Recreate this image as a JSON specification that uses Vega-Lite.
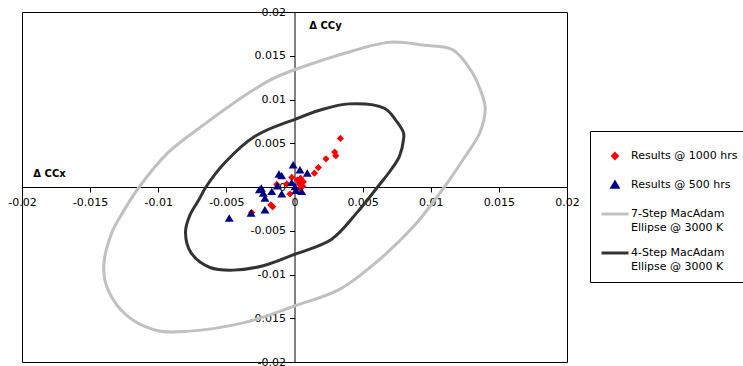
{
  "$schema": "https://vega.github.io/schema/vega-lite/v6.json",
  "width": 545,
  "height": 350,
  "autosize": {"type": "none"},
  "padding": {"left": 22, "top": 12, "right": 176, "bottom": 4},
  "background": "#ffffff",
  "config": {
    "view": {"stroke": "#000000", "strokeWidth": 1},
    "font": "DejaVu Sans",
    "style": {"guide-label": {"lineBreak": "\n", "lineHeight": 14}}
  },
  "datasets": {
    "ellipses": [
      {"series": "7-Step MacAdam\nEllipse @ 3000 K", "i": 0, "x": 0, "y": 0.0134},
      {"series": "7-Step MacAdam\nEllipse @ 3000 K", "i": 1, "x": 0.0035, "y": 0.0152},
      {"series": "7-Step MacAdam\nEllipse @ 3000 K", "i": 2, "x": 0.007, "y": 0.01655},
      {"series": "7-Step MacAdam\nEllipse @ 3000 K", "i": 3, "x": 0.0095, "y": 0.0162},
      {"series": "7-Step MacAdam\nEllipse @ 3000 K", "i": 4, "x": 0.0116, "y": 0.0157},
      {"series": "7-Step MacAdam\nEllipse @ 3000 K", "i": 5, "x": 0.013, "y": 0.0132},
      {"series": "7-Step MacAdam\nEllipse @ 3000 K", "i": 6, "x": 0.0138, "y": 0.0104},
      {"series": "7-Step MacAdam\nEllipse @ 3000 K", "i": 7, "x": 0.014, "y": 0.009},
      {"series": "7-Step MacAdam\nEllipse @ 3000 K", "i": 8, "x": 0.0136, "y": 0.0062},
      {"series": "7-Step MacAdam\nEllipse @ 3000 K", "i": 9, "x": 0.0124, "y": 0.0032},
      {"series": "7-Step MacAdam\nEllipse @ 3000 K", "i": 10, "x": 0.011, "y": 0.0},
      {"series": "7-Step MacAdam\nEllipse @ 3000 K", "i": 11, "x": 0.0088, "y": -0.0044},
      {"series": "7-Step MacAdam\nEllipse @ 3000 K", "i": 12, "x": 0.006, "y": -0.0086},
      {"series": "7-Step MacAdam\nEllipse @ 3000 K", "i": 13, "x": 0.0033, "y": -0.0117},
      {"series": "7-Step MacAdam\nEllipse @ 3000 K", "i": 14, "x": 0.0, "y": -0.0136},
      {"series": "7-Step MacAdam\nEllipse @ 3000 K", "i": 15, "x": -0.0037, "y": -0.0155},
      {"series": "7-Step MacAdam\nEllipse @ 3000 K", "i": 16, "x": -0.0079, "y": -0.0165},
      {"series": "7-Step MacAdam\nEllipse @ 3000 K", "i": 17, "x": -0.0101, "y": -0.0164},
      {"series": "7-Step MacAdam\nEllipse @ 3000 K", "i": 18, "x": -0.0123, "y": -0.0147},
      {"series": "7-Step MacAdam\nEllipse @ 3000 K", "i": 19, "x": -0.0137, "y": -0.0117},
      {"series": "7-Step MacAdam\nEllipse @ 3000 K", "i": 20, "x": -0.014, "y": -0.009},
      {"series": "7-Step MacAdam\nEllipse @ 3000 K", "i": 21, "x": -0.0134, "y": -0.0052},
      {"series": "7-Step MacAdam\nEllipse @ 3000 K", "i": 22, "x": -0.0126, "y": -0.0029},
      {"series": "7-Step MacAdam\nEllipse @ 3000 K", "i": 23, "x": -0.0114, "y": 0.0},
      {"series": "7-Step MacAdam\nEllipse @ 3000 K", "i": 24, "x": -0.0093, "y": 0.0039},
      {"series": "7-Step MacAdam\nEllipse @ 3000 K", "i": 25, "x": -0.0065, "y": 0.0073},
      {"series": "7-Step MacAdam\nEllipse @ 3000 K", "i": 26, "x": -0.0037, "y": 0.0104},
      {"series": "7-Step MacAdam\nEllipse @ 3000 K", "i": 27, "x": -0.0017, "y": 0.0123},
      {"series": "7-Step MacAdam\nEllipse @ 3000 K", "i": 28, "x": 0, "y": 0.0134},
      {"series": "4-Step MacAdam\nEllipse @ 3000 K", "i": 0, "x": 0, "y": 0.0077},
      {"series": "4-Step MacAdam\nEllipse @ 3000 K", "i": 1, "x": 0.0019, "y": 0.0088},
      {"series": "4-Step MacAdam\nEllipse @ 3000 K", "i": 2, "x": 0.004, "y": 0.0095},
      {"series": "4-Step MacAdam\nEllipse @ 3000 K", "i": 3, "x": 0.0066, "y": 0.009},
      {"series": "4-Step MacAdam\nEllipse @ 3000 K", "i": 4, "x": 0.0074, "y": 0.0077},
      {"series": "4-Step MacAdam\nEllipse @ 3000 K", "i": 5, "x": 0.008, "y": 0.0062},
      {"series": "4-Step MacAdam\nEllipse @ 3000 K", "i": 6, "x": 0.008, "y": 0.0054},
      {"series": "4-Step MacAdam\nEllipse @ 3000 K", "i": 7, "x": 0.0077, "y": 0.0035},
      {"series": "4-Step MacAdam\nEllipse @ 3000 K", "i": 8, "x": 0.0071, "y": 0.002},
      {"series": "4-Step MacAdam\nEllipse @ 3000 K", "i": 9, "x": 0.0061, "y": 0.0},
      {"series": "4-Step MacAdam\nEllipse @ 3000 K", "i": 10, "x": 0.0046, "y": -0.0029},
      {"series": "4-Step MacAdam\nEllipse @ 3000 K", "i": 11, "x": 0.0027, "y": -0.006},
      {"series": "4-Step MacAdam\nEllipse @ 3000 K", "i": 12, "x": 0.0, "y": -0.0077},
      {"series": "4-Step MacAdam\nEllipse @ 3000 K", "i": 13, "x": -0.0023, "y": -0.009},
      {"series": "4-Step MacAdam\nEllipse @ 3000 K", "i": 14, "x": -0.0045, "y": -0.0095},
      {"series": "4-Step MacAdam\nEllipse @ 3000 K", "i": 15, "x": -0.0062, "y": -0.0092},
      {"series": "4-Step MacAdam\nEllipse @ 3000 K", "i": 16, "x": -0.0076, "y": -0.0075},
      {"series": "4-Step MacAdam\nEllipse @ 3000 K", "i": 17, "x": -0.008, "y": -0.0052},
      {"series": "4-Step MacAdam\nEllipse @ 3000 K", "i": 18, "x": -0.0077, "y": -0.0033},
      {"series": "4-Step MacAdam\nEllipse @ 3000 K", "i": 19, "x": -0.007, "y": -0.0014},
      {"series": "4-Step MacAdam\nEllipse @ 3000 K", "i": 20, "x": -0.0065, "y": 0.0},
      {"series": "4-Step MacAdam\nEllipse @ 3000 K", "i": 21, "x": -0.0051, "y": 0.0028},
      {"series": "4-Step MacAdam\nEllipse @ 3000 K", "i": 22, "x": -0.0029, "y": 0.0058},
      {"series": "4-Step MacAdam\nEllipse @ 3000 K", "i": 23, "x": 0, "y": 0.0077}
    ],
    "points": [
      {"series": "Results @ 1000 hrs", "x": 0.00337, "y": 0.00555},
      {"series": "Results @ 1000 hrs", "x": 0.00295, "y": 0.004},
      {"series": "Results @ 1000 hrs", "x": 0.00303, "y": 0.00358},
      {"series": "Results @ 1000 hrs", "x": 0.00231, "y": 0.00322},
      {"series": "Results @ 1000 hrs", "x": 0.00175, "y": 0.00222},
      {"series": "Results @ 1000 hrs", "x": 0.00146, "y": 0.00158},
      {"series": "Results @ 1000 hrs", "x": 0.00065, "y": 0.0006},
      {"series": "Results @ 1000 hrs", "x": 0.00045, "y": 0.001},
      {"series": "Results @ 1000 hrs", "x": 0.00035, "y": 0.00035},
      {"series": "Results @ 1000 hrs", "x": 0.0006, "y": 0.0001},
      {"series": "Results @ 1000 hrs", "x": 0.0002, "y": 0.0008},
      {"series": "Results @ 1000 hrs", "x": -0.0002, "y": 0.0011},
      {"series": "Results @ 1000 hrs", "x": -0.00057, "y": 0.00035},
      {"series": "Results @ 1000 hrs", "x": -0.0013, "y": 0.0003},
      {"series": "Results @ 1000 hrs", "x": -0.00033, "y": -0.0008},
      {"series": "Results @ 1000 hrs", "x": 0.0004, "y": -0.0002},
      {"series": "Results @ 1000 hrs", "x": -0.00174, "y": -0.00205},
      {"series": "Results @ 1000 hrs", "x": -0.0016, "y": -0.00225},
      {"series": "Results @ 1000 hrs", "x": -0.00314, "y": -0.00292},
      {"series": "Results @ 500 hrs", "x": -0.0001, "y": 0.0025},
      {"series": "Results @ 500 hrs", "x": 0.0004, "y": 0.00194},
      {"series": "Results @ 500 hrs", "x": 0.00094, "y": 0.00157},
      {"series": "Results @ 500 hrs", "x": -0.00114, "y": 0.00145},
      {"series": "Results @ 500 hrs", "x": -0.00094, "y": 0.00126},
      {"series": "Results @ 500 hrs", "x": -0.00126, "y": 0.00011},
      {"series": "Results @ 500 hrs", "x": -0.00244, "y": -0.00015},
      {"series": "Results @ 500 hrs", "x": -0.00258, "y": -0.00034},
      {"series": "Results @ 500 hrs", "x": -0.00229, "y": -0.00072},
      {"series": "Results @ 500 hrs", "x": -0.00167, "y": -0.00054},
      {"series": "Results @ 500 hrs", "x": -0.00217, "y": -0.00129},
      {"series": "Results @ 500 hrs", "x": -0.00094, "y": -0.0008},
      {"series": "Results @ 500 hrs", "x": -0.00021, "y": 0.00049},
      {"series": "Results @ 500 hrs", "x": 0.00004, "y": 0.00003},
      {"series": "Results @ 500 hrs", "x": 0.00053, "y": -0.00054},
      {"series": "Results @ 500 hrs", "x": 0.0001, "y": -0.0004},
      {"series": "Results @ 500 hrs", "x": -0.00217, "y": -0.00263},
      {"series": "Results @ 500 hrs", "x": -0.00319, "y": -0.003},
      {"series": "Results @ 500 hrs", "x": -0.00479, "y": -0.00358}
    ]
  },
  "encoding": {
    "x": {
      "field": "x", "type": "quantitative",
      "scale": {"domain": [-0.02, 0.02], "nice": false, "zero": false},
      "axis": {
        "orient": "bottom", "offset": -175,
        "values": [-0.02, -0.015, -0.01, -0.005, 0, 0.005, 0.01, 0.015, 0.02],
        "labelExpr": "'' + datum.value",
        "grid": false, "tickSize": 5, "tickColor": "#000000", "domainColor": "#000000",
        "labelColor": "#000000", "labelFont": "DejaVu Sans", "labelFontSize": 11, "labelPadding": 4,
        "labelFlush": false, "labelOverlap": false, "labelBound": false,
        "title": "Δ CCx", "titleFont": "DejaVu Sans", "titleFontSize": 10, "titleFontWeight": "bold",
        "titleColor": "#000000", "titleX": 27, "titleY": -14, "titleAlign": "center", "titleBaseline": "middle"
      }
    },
    "y": {
      "field": "y", "type": "quantitative",
      "scale": {"domain": [-0.02, 0.02], "nice": false, "zero": false},
      "axis": {
        "orient": "left", "offset": -272.5,
        "values": [-0.02, -0.015, -0.01, -0.005, 0, 0.005, 0.01, 0.015, 0.02],
        "labelExpr": "'' + datum.value",
        "grid": false, "tickSize": 5, "tickColor": "#000000", "domainColor": "#000000",
        "labelColor": "#000000", "labelFont": "DejaVu Sans", "labelFontSize": 11, "labelPadding": 4,
        "labelFlush": false, "labelOverlap": false, "labelBound": false,
        "title": "Δ CCy", "titleFont": "DejaVu Sans", "titleFontSize": 10, "titleFontWeight": "bold",
        "titleColor": "#000000", "titleAngle": 0, "titleX": 30.5, "titleY": 13, "titleAlign": "center", "titleBaseline": "middle"
      }
    },
    "color": {
      "field": "series", "type": "nominal",
      "scale": {
        "domain": ["Results @ 1000 hrs", "Results @ 500 hrs", "7-Step MacAdam\nEllipse @ 3000 K", "4-Step MacAdam\nEllipse @ 3000 K"],
        "range": ["#ff0000", "#000080", "#c0c0c0", "#333333"]
      },
      "legend": {
        "orient": "none", "legendX": 568, "legendY": 119,
        "title": null, "fillColor": "#ffffff", "strokeColor": "#000000", "padding": 10,
        "symbolSize": 729, "symbolStrokeWidth": 3, "symbolOpacity": 1,
        "labelFont": "DejaVu Sans", "labelFontSize": 11, "labelColor": "#000000",
        "labelOffset": 1, "labelLimit": 400, "rowPadding": 5
      }
    }
  },
  "layer": [
    {
      "data": {"name": "ellipses"},
      "mark": {"type": "line", "strokeWidth": 3, "interpolate": "catmull-rom"},
      "encoding": {"order": {"field": "i", "type": "quantitative"}}
    },
    {
      "data": {"name": "points"},
      "transform": [{"filter": "datum.series == 'Results @ 1000 hrs'"}],
      "mark": {"type": "point", "filled": true, "opacity": 1, "size": 1800},
      "encoding": {
        "shape": {
          "field": "series", "type": "nominal",
          "scale": {
            "domain": ["Results @ 1000 hrs", "Results @ 500 hrs", "7-Step MacAdam\nEllipse @ 3000 K", "4-Step MacAdam\nEllipse @ 3000 K"],
            "range": ["M0,-0.17L0.17,0L0,0.17L-0.17,0Z", "M0,-0.19L0.21,0.16L-0.21,0.16Z", "M-1,0L1,0", "M-1,0L1,0"]
          }
        }
      }
    },
    {
      "data": {"name": "points"},
      "transform": [{"filter": "datum.series == 'Results @ 500 hrs'"}],
      "mark": {"type": "point", "filled": true, "opacity": 1, "size": 1800},
      "encoding": {
        "shape": {
          "field": "series", "type": "nominal",
          "scale": {
            "domain": ["Results @ 1000 hrs", "Results @ 500 hrs", "7-Step MacAdam\nEllipse @ 3000 K", "4-Step MacAdam\nEllipse @ 3000 K"],
            "range": ["M0,-0.17L0.17,0L0,0.17L-0.17,0Z", "M0,-0.19L0.21,0.16L-0.21,0.16Z", "M-1,0L1,0", "M-1,0L1,0"]
          }
        }
      }
    }
  ]
}
